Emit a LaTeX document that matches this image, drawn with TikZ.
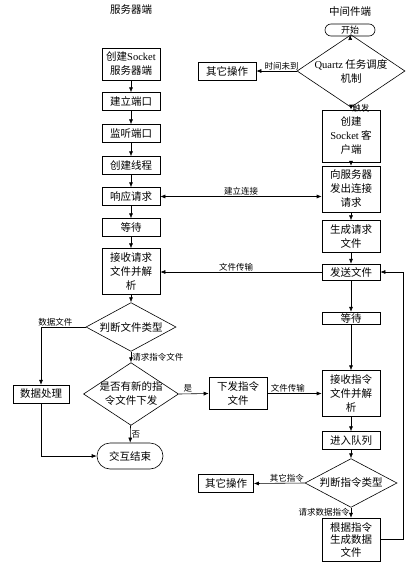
\documentclass[tikz,border=0pt]{standalone}
\usepackage{fontspec}
\setmainfont{Liberation Serif}
\newfontfamily\cjk{Noto Sans CJK SC}
\usepackage{tikz}
\usetikzlibrary{shapes.geometric,arrows.meta}
\newcommand{\lat}[1]{{\rmfamily #1}}

\begin{document}
\begin{tikzpicture}[x=1pt,y=-1pt,line width=0.6pt,
    stepbox/.style={draw, rectangle, minimum width=58pt, align=center, inner xsep=2pt, inner ysep=4pt, font=\cjk\fontsize{10.5}{14}\selectfont},
    decide/.style={draw, diamond, inner sep=-6pt, align=center, font=\cjk\fontsize{10.5}{14}\selectfont},
    term/.style={draw, rectangle, align=center, font=\cjk\fontsize{10.5}{14}\selectfont},
    lbl/.style={font=\cjk\fontsize{8.5}{9}\selectfont, inner sep=1pt},
    title/.style={font=\cjk\fontsize{10.5}{12}\selectfont},
    arr/.style={-{Latex[length=5pt,width=4pt]}}]
      \useasboundingbox (0,0) rectangle (417,568);

      % Titles
      \node[title] (srvtitle) at (131,10) {服务器端};
      \node[title] (midtitle) at (350,12) {中间件端};

      % Server side
      \node[stepbox] (srv) at (131,64) {创建\lat{Socket}\\服务器端};
      \node[stepbox] (port) at (131,101.5) {建立端口};
      \node[stepbox] (listen) at (131,133.5) {监听端口};
      \node[stepbox] (thread) at (131,165.5) {创建线程};
      \node[stepbox] (resp) at (131,196.5) {响应请求};
      \node[stepbox] (wait1) at (131,227.5) {等待};
      \node[stepbox] (recv1) at (131,271.5) {接收请求\\文件并解\\析};
      \node[decide, minimum width=90pt, minimum height=38pt] (judge1) at (131,327) {判断文件类型};
      \node[decide, minimum width=95pt, minimum height=54pt] (newcmd) at (131,394) {是否有新的指\\令文件下发};
      \node[stepbox, minimum width=56pt] (data) at (41,394) {数据处理};
      \node[term, rounded corners=13pt, minimum width=66pt, minimum height=26pt] (endn) at (130,456) {交互结束};

      % Middleware side
      \node[term, rounded corners=6pt, minimum width=50pt, minimum height=12pt, inner sep=0pt, font=\cjk\fontsize{9}{10}\selectfont] (start) at (350,30) {开始};
      \node[decide, minimum width=108pt, minimum height=46pt] (quartz) at (351,71) {\lat{Quartz} 任务调度\\机制};
      \node[stepbox] (other1) at (227,71) {其它操作};
      \node[stepbox, minimum height=52pt] (client) at (351,136) {创建\\\lat{Socket} 客\\户端};
      \node[stepbox] (conn) at (351,189) {向服务器\\发出连接\\请求};
      \node[stepbox] (gen) at (351,236.5) {生成请求\\文件};
      \node[stepbox, inner ysep=3pt] (send) at (351,272) {发送文件};
      \node[stepbox, inner ysep=1pt] (wait2) at (351,318) {等待};
      \node[stepbox] (recv2) at (351,393.5) {接收指令\\文件并解\\析};
      \node[stepbox] (issue) at (238,393.5) {下发指令\\文件};
      \node[stepbox] (queue) at (351,440.5) {进入队列};
      \node[decide, minimum width=92pt, minimum height=38pt] (judge2) at (351,483) {判断指令类型};
      \node[stepbox, minimum width=55pt] (other2) at (226,483.5) {其它操作};
      \node[stepbox, font=\cjk\fontsize{10.5}{12.5}\selectfont] (gendata) at (351,539.5) {根据指令\\生成数据\\文件};

      % Arrows, server side
      \draw[arr] (srv) -- (port);
      \draw[arr] (port) -- (listen);
      \draw[arr] (listen) -- (thread);
      \draw[arr] (thread) -- (resp);
      \draw[arr] (resp) -- (wait1);
      \draw[arr] (wait1) -- (recv1);
      \draw[arr] (recv1) -- (judge1);
      \draw[arr] (judge1.west) -| node[lbl, above, pos=0.34] {数据文件} (data.north);
      \draw[arr] (judge1) -- node[lbl, right] {请求指令文件} (newcmd);
      \draw[arr] (newcmd) -- node[lbl, right] {否} (endn);
      \draw[arr] (data.south) |- (endn.west);
      \draw[arr] (newcmd.east) -- node[lbl, above, pos=0.3] {是} (issue.west);
      \draw[arr] (issue.east) -- node[lbl, above, pos=0.38] {文件传输} (recv2.west |- issue.east);

      % Arrows, middleware side
      \draw[arr] (start) -- (quartz);
      \draw[arr] (quartz.west) -- node[lbl, above, pos=0.375] {时间未到} (other1.east);
      \draw[arr] (quartz) -- node[lbl, right] {触发} (client);
      \draw[arr] (client) -- (conn);
      \draw[arr] (conn) -- (gen);
      \draw[arr] (gen) -- (send);
      \draw[{Latex[length=5pt,width=4pt]}-{Latex[length=5pt,width=4pt]}] (resp.east) -- node[lbl, above] {建立连接} (resp.east -| conn.west);
      \draw[arr] (send.west) -- node[lbl, above, inner sep=0.5pt, pos=0.53] {文件传输} (recv1.east |- send.west);
      \draw[arr] (send) -- (wait2);
      \draw[arr] (wait2) -- (recv2);
      \draw[arr] (recv2) -- (queue);
      \draw[arr] (queue) -- (judge2);
      \draw[arr] (judge2.west) -- node[lbl, above, pos=0.35] {其它指令} (other2.east);
      \draw[arr] (judge2) -- node[lbl, left] {请求数据指令} (gendata);
      \draw[arr] (gendata.east) -- ++(23,0) |- (send.east);
    \end{tikzpicture}
\end{document}
